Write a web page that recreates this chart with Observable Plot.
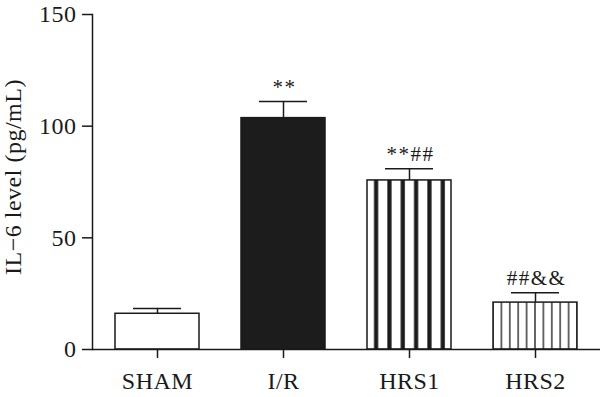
<!DOCTYPE html>
<html><head><meta charset="utf-8">
<script src="https://cdn.jsdelivr.net/npm/d3@7"></script>
<script src="https://cdn.jsdelivr.net/npm/@observablehq/plot@0.6"></script>
<style>body{margin:0;background:#fff} svg text{letter-spacing:0.5px}</style>
</head><body><div id="chart"></div>
<script>
const categories = ["SHAM", "I/R", "HRS1", "HRS2"];
const means = [16, 103.6, 75.7, 21];
const errors = [2.4, 7.4, 5.2, 4.4];
const annotations = ["", "**", "**##", "##&&"];
const yTicks = [0, 50, 100, 150];
const yLabel = "IL\u22126 level (pg/mL)";

const data = categories.map((c, i) => ({cat: c, mean: means[i], top: means[i] + errors[i], note: annotations[i]}));
const ink = "#1a1a1a";
const serif = "'Liberation Serif', 'Times New Roman', serif";
const fills = ["#ffffff", "#1c1c1c", "url(#stripeThick)", "url(#stripeThin)"];

const chart = Plot.plot({
  width: 600, height: 397,
  marginLeft: 92, marginRight: 0, marginTop: 14, marginBottom: 48,
  style: {fontFamily: serif, fontSize: "24px", color: ink, background: "#fff"},
  x: {domain: categories, paddingInner: 0.333, paddingOuter: 0.18, label: null},
  y: {domain: [0, 150], label: null},
  color: {domain: categories, range: fills},
  marks: [
    Plot.barY(data, {x: "cat", y: "mean", fill: "cat", stroke: ink, strokeWidth: 1.5}),
    Plot.ruleX(data, {x: "cat", y1: "mean", y2: "top", stroke: ink, strokeWidth: 1.5}),
    Plot.tickY(data, {x: "cat", y: "top", stroke: ink, strokeWidth: 1.5, insetLeft: 18, insetRight: 18}),
    Plot.text(data.filter(d => d.note), {x: "cat", y: "top", text: "note", lineAnchor: "bottom", dy: -8, dx: 1, fontSize: 21, fontFamily: serif, fill: ink, ariaDescription: "annot"}),
    Plot.axisY({ticks: yTicks, tickSize: 10, tickPadding: 6, tickFormat: d => d, label: null, strokeWidth: 1.5, fontSize: 24, fontFamily: serif}),
    Plot.axisX({tickSize: 9, tickPadding: 13, label: null, strokeWidth: 1.5, fontSize: 24, fontFamily: serif}),
    Plot.frame({anchor: "left", stroke: ink, strokeWidth: 1.5}),
    Plot.ruleY([0], {stroke: ink, strokeWidth: 1.5}),
    Plot.text([yLabel], {text: d => d, frameAnchor: "left", textAnchor: "middle", rotate: -90, dx: -79, dy: -5, fontSize: 24, fontFamily: serif, fill: ink, lineAnchor: "middle"})
  ]
});

const svg = d3.select(chart);
const xs = chart.scale("x");
const bw = xs.bandwidth;
const defs = svg.insert("defs", ":first-child");
const w1 = bw / 6.3;
const p1 = defs.append("pattern").attr("id", "stripeThick").attr("patternUnits", "userSpaceOnUse")
  .attr("x", xs.apply("HRS1")).attr("y", 0).attr("width", w1).attr("height", 10);
p1.append("rect").attr("width", w1).attr("height", 10).attr("fill", "#fff");
p1.append("rect").attr("x", 7).attr("width", 4.2).attr("height", 10).attr("fill", ink);
const w2 = bw / 10;
const p2 = defs.append("pattern").attr("id", "stripeThin").attr("patternUnits", "userSpaceOnUse")
  .attr("x", xs.apply("HRS2")).attr("y", 0).attr("width", w2).attr("height", 10);
p2.append("rect").attr("width", w2).attr("height", 10).attr("fill", "#fff");
p2.append("rect").attr("x", -0.65).attr("width", 1.3).attr("height", 10).attr("fill", ink);
p2.append("rect").attr("x", w2 - 0.65).attr("width", 1.3).attr("height", 10).attr("fill", ink);
svg.selectAll('g[aria-description="annot"] text').style("letter-spacing", "1.5px");

document.getElementById("chart").appendChild(chart);
</script>
</body></html>
